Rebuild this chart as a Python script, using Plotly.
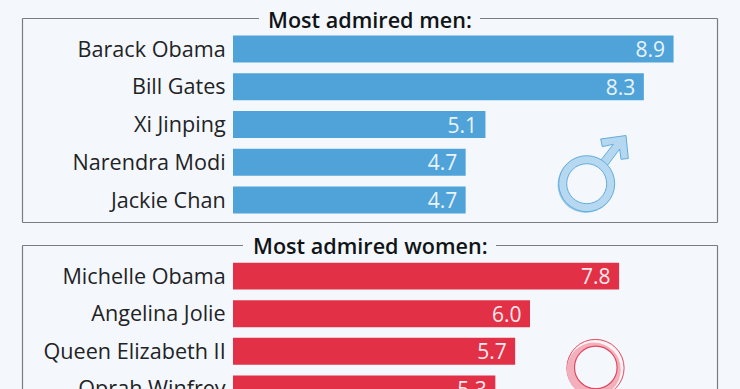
import plotly.graph_objects as go

men_names = ["Barack Obama", "Bill Gates", "Xi Jinping", "Narendra Modi", "Jackie Chan"]
men_values = [8.9, 8.3, 5.1, 4.7, 4.7]
women_names = ["Michelle Obama", "Angelina Jolie", "Queen Elizabeth II", "Oprah Winfrey"]
women_values = [7.8, 6.0, 5.7, 5.3]

W, H = 740, 389
BG = "#f4f8fc"
BLUE = "#4fa3d9"
RED = "#e23047"
BORDER = "#7a7d80"
FONT = "Open Sans"


def px(x):
    return x / W


def py(y):
    return 1 - y / H


fig = go.Figure()
fig.add_trace(go.Bar(
    x=men_values, y=men_names, orientation="h", marker=dict(color=BLUE, line_width=0),
    text=[f"{v:.1f}\u00a0" for v in men_values], textposition="inside", insidetextanchor="end",
    textangle=0, constraintext="none", cliponaxis=True,
    insidetextfont=dict(family=FONT, size=21, color="#e9f3fa"), xaxis="x", yaxis="y",
))
fig.add_trace(go.Bar(
    x=women_values, y=women_names, orientation="h", marker=dict(color=RED, line_width=0),
    text=[f"{v:.1f}\u00a0" for v in women_values], textposition="inside", insidetextanchor="end",
    textangle=0, constraintext="none", cliponaxis=True,
    insidetextfont=dict(family=FONT, size=21, color="#fbe9ec"), xaxis="x2", yaxis="y2",
))

xcommon = dict(range=[0, (W - 233) / 49.5], domain=[233 / W, 1], visible=False, fixedrange=True)
ycommon = dict(
    type="category", showline=False, showgrid=False, zeroline=False, ticks="outside", ticklen=2,
    tickcolor="rgba(0,0,0,0)", tickfont=dict(family=FONT, size=21.6, color="#1f2326"), automargin=False,
)

shapes = []


def seg(x0, y0, x1, y1):
    shapes.append(dict(type="line", xref="paper", yref="paper", x0=px(x0), x1=px(x1), y0=py(y0), y1=py(y1),
                       line=dict(color=BORDER, width=1.2), layer="below"))


# Panel frames, open at the top where the headings sit
seg(22.5, 18.5, 259, 18.5)
seg(480, 18.5, 717.5, 18.5)
seg(22.5, 18.5, 22.5, 222.5)
seg(717.5, 18.5, 717.5, 222.5)
seg(22.5, 222.5, 717.5, 222.5)
seg(22.5, 245.5, 243, 245.5)
seg(496, 245.5, 717.5, 245.5)
seg(22.5, 245.5, 22.5, 389)
seg(717.5, 245.5, 717.5, 389)


def circle(cx, cy, r, fill, line=None, lw=1.0):
    shapes.append(dict(type="circle", xref="paper", yref="paper",
                       x0=px(cx - r), x1=px(cx + r), y0=py(cy + r), y1=py(cy - r),
                       fillcolor=fill, line=dict(color=line or "rgba(0,0,0,0)", width=lw if line else 0)))


def poly(points, fill, line, lw=1.0):
    d = "M " + " L ".join(f"{px(x):.5f},{py(y):.5f}" for x, y in points) + " Z"
    shapes.append(dict(type="path", xref="paper", yref="paper", path=d, fillcolor=fill,
                       line=dict(color=line, width=lw)))


# Male symbol icon
arrow = [(601, 160), (607, 166), (619.7, 149), (621, 159.3), (628.3, 158.5), (626, 135.5), (600.7, 139),
         (602.3, 146.7), (613.3, 144.3)]
poly(arrow, "#b5d8f0", "#62acdd")
circle(585.7, 184.8, 28.2, "#9ccbea")
circle(586.7, 183.7, 28, "#b6d9f1", "#62acdd")
circle(586.7, 183.7, 20, BG, "#62acdd")

# Female symbol icon
circle(595.5, 368, 28.6, "#fdf3f5", "#df4a60")
circle(593.8, 369.6, 27, "#f3b0bc")
circle(595.8, 367.4, 21.3, BG, "#df4a60", 1.2)

annotations = [
    dict(text="Most admired men:", x=px(370), y=py(19), xref="paper", yref="paper", showarrow=False,
         font=dict(family=FONT, size=21.6, weight=600, color="#111417"), xanchor="center", yanchor="middle"),
    dict(text="Most admired women:", x=px(370), y=py(245.5), xref="paper", yref="paper", showarrow=False,
         font=dict(family=FONT, size=21.6, weight=600, color="#111417"), xanchor="center", yanchor="middle"),
]

fig.update_layout(
    width=W, height=H, margin=dict(l=0, r=0, t=0, b=0), paper_bgcolor=BG, plot_bgcolor="rgba(0,0,0,0)",
    showlegend=False, bargap=0.285, shapes=shapes, annotations=annotations,
    xaxis=dict(**xcommon, anchor="y"),
    xaxis2=dict(**xcommon, anchor="y2"),
    yaxis=dict(**ycommon, anchor="x", domain=[py(49 + 37.75 * 4.5), py(49 - 37.75 * 0.5)],
               range=[4.5, -0.5], categoryorder="array", categoryarray=men_names),
    yaxis2=dict(**ycommon, anchor="x2", domain=[0, py(276.1 - 37.6 * 0.5)],
                range=[(H - 276.1) / 37.6, -0.5], categoryorder="array", categoryarray=women_names),
)

fig.write_html("out.html", config={"displayModeBar": False},
               post_script="document.body.style.margin='0';document.body.style.background='%s';document.documentElement.style.overflow='hidden';" % BG)
